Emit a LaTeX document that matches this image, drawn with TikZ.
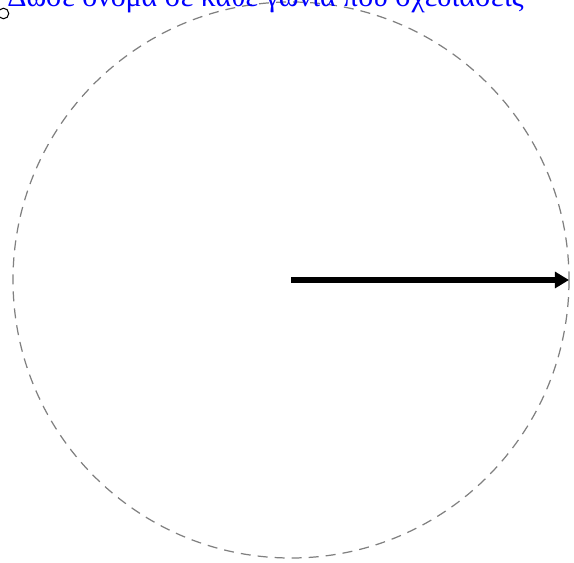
\documentclass[tikz,border=0pt]{standalone}
\usepackage{fontspec}
\setmainfont{Liberation Serif}
\usetikzlibrary{arrows.meta}

\begin{document}
\begin{tikzpicture}[x=0.02cm,y=-0.02cm]
		
		% Marco del dibujo (recorta el texto de arriba)
		\clip (0,0) rectangle (574,563);
		
		% Circunferencia punteada
		\coordinate (centro) at (291,280);
		\draw[gray, line width=0.7pt, dash pattern=on 5.7pt off 4pt] (centro) circle (278);
		
		% Radio (flecha gruesa)
		\coordinate (borde) at (569,280);
		\draw[line width=2.9pt, -{Triangle[length=8pt,width=9pt]}] (centro) -- (borde);
		
		% Punto pequeño arriba a la izquierda
		\node[draw, circle, inner sep=0pt, minimum size=6pt, line width=0.6pt] (punto) at (3.5,13.5) {};
		
		% Consigna
		\node[anchor=base west, text=blue, font=\fontsize{17}{20}\selectfont, inner sep=0pt] (consigna) at (7,7) {Δώσε όνομα σε κάθε γωνία που σχεδιάσεις};
		
	\end{tikzpicture}
\end{document}
